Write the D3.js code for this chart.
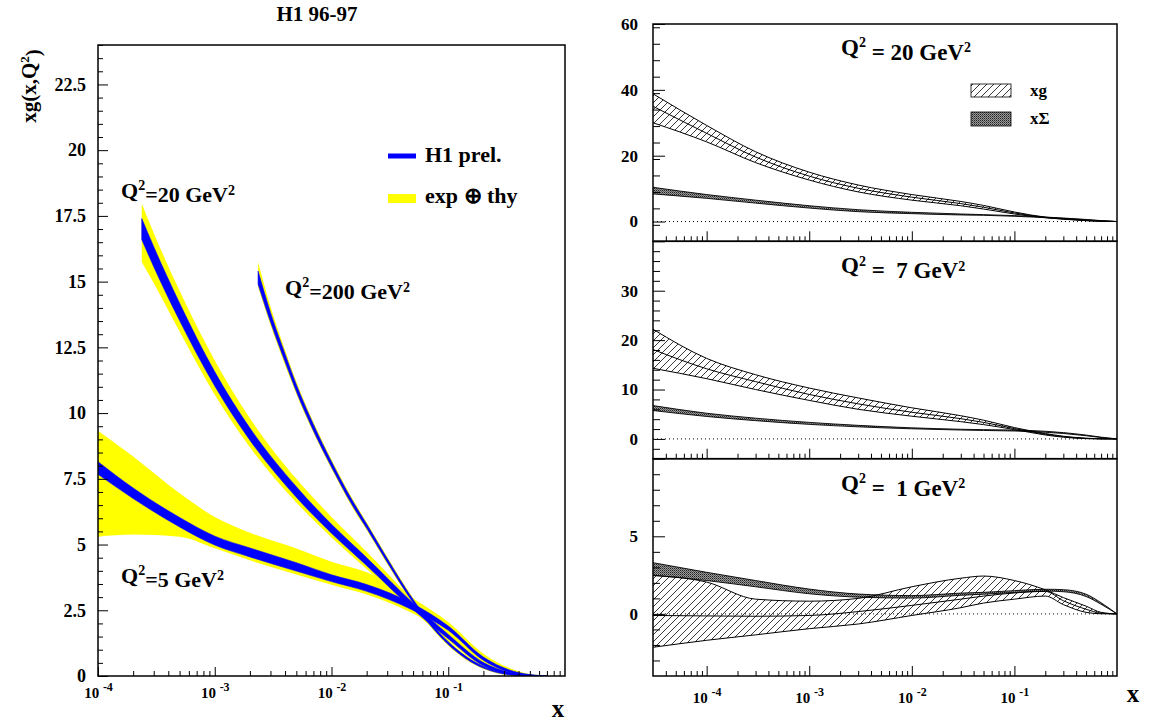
<!DOCTYPE html>
<html>
<head>
<meta charset="utf-8">
<script src="https://cdn.jsdelivr.net/npm/d3@7"></script>
<style>
body { margin: 0; background: #fff; }
svg { font-family: "Liberation Serif", "Times New Roman", serif; font-weight: bold; }
text { white-space: pre; }
</style>
</head>
<body>
<script>
// ---- left panel: xg at three Q2 values (H1 prel. band + exp (+) thy band)
var q5X       = [1e-4, 2e-4, 5e-4, 1e-3, 2e-3, 5e-3, 1e-2, 2e-2, 5e-2, 0.1, 0.2, 0.4, 0.7];
var q5BlueLo  = [7.67, 6.75, 5.67, 4.98, 4.53, 3.99, 3.59, 3.22, 2.50, 1.74, 0.60, 0.07, 0];
var q5BlueHi  = [8.15, 7.15, 6.03, 5.32, 4.87, 4.31, 3.85, 3.48, 2.74, 1.90, 0.72, 0.13, 0];
var q5YelLo   = [5.30, 5.38, 5.30, 4.86, 4.40, 3.86, 3.47, 3.10, 2.38, 1.62, 0.50, 0.03, 0];
var q5YelHi   = [9.33, 8.35, 6.95, 6.05, 5.45, 4.85, 4.35, 3.95, 2.95, 2.05, 0.85, 0.18, 0];

var q20X      = [2.37e-4, 3e-4, 5e-4, 1e-3, 2e-3, 5e-3, 1e-2, 2e-2, 5e-2, 0.1, 0.2, 0.4, 0.7];
var q20BlueLo = [16.6, 15.57, 13.52, 11.03, 8.97, 6.80, 5.43, 4.20, 2.53, 1.42, 0.39, 0.02, 0];
var q20BlueHi = [17.4, 16.33, 14.18, 11.57, 9.43, 7.20, 5.77, 4.50, 2.77, 1.58, 0.51, 0.08, 0];
var q20YelLo  = [15.75, 14.95, 13.10, 10.70, 8.70, 6.60, 5.27, 4.07, 2.45, 1.35, 0.35, 0.0, 0];
var q20YelHi  = [17.97, 16.85, 14.65, 12.0, 9.80, 7.50, 6.05, 4.73, 2.90, 1.68, 0.57, 0.10, 0];

var q200X      = [2.35e-3, 3e-3, 4e-3, 5e-3, 7e-3, 1e-2, 1.5e-2, 2e-2, 3e-2, 5e-2, 0.1, 0.2, 0.4, 0.7];
var q200BlueLo = [14.9, 13.47, 11.95, 10.82, 9.33, 7.95, 6.51, 5.62, 4.33, 2.79, 1.20, 0.30, 0.02, 0];
var q200BlueHi = [15.4, 13.83, 12.25, 11.08, 9.57, 8.15, 6.69, 5.78, 4.47, 2.91, 1.30, 0.36, 0.04, 0];
var q200YelLo  = [14.8, 13.35, 11.83, 10.72, 9.25, 7.87, 6.43, 5.55, 4.26, 2.73, 1.15, 0.27, 0.01, 0];
var q200YelHi  = [15.75, 14.05, 12.40, 11.20, 9.66, 8.23, 6.77, 5.85, 4.54, 2.97, 1.35, 0.39, 0.05, 0];

var leftYTicks = [0, 2.5, 5, 7.5, 10, 12.5, 15, 17.5, 20, 22.5];

// ---- right panels: xg and xSigma bands, shared x grid
var rX = [3e-5, 1e-4, 3e-4, 1e-3, 3e-3, 1e-2, 3e-2, 5e-2, 0.1, 0.2, 0.3, 0.5, 0.7, 1.0];

var q20gHi  = [38.8, 29.2, 21.2, 15.0, 11.1, 8.2, 6.1, 4.9, 2.9, 1.35, 0.85, 0.35, 0.1, 0];
var q20gMid = [35.0, 26.8, 19.6, 13.8, 10.1, 7.4, 5.45, 4.35, 2.6, 1.25, 0.78, 0.31, 0.09, 0];
var q20gLo  = [30.0, 24.2, 17.9, 12.6, 9.0, 6.5, 4.8, 3.8, 2.3, 1.15, 0.7, 0.27, 0.08, 0];
var q20sHi  = [10.4, 8.2, 6.5, 4.8, 3.6, 2.8, 2.3, 2.1, 1.8, 1.36, 1.07, 0.64, 0.28, 0];
var q20sMid = [9.45, 7.6, 6.05, 4.45, 3.3, 2.6, 2.15, 2.0, 1.7, 1.28, 1.0, 0.6, 0.25, 0];
var q20sLo  = [8.4, 7.05, 5.6, 4.1, 3.0, 2.4, 2.0, 1.9, 1.6, 1.2, 0.95, 0.55, 0.22, 0];

var q7gHi  = [22.2, 16.3, 13.0, 10.3, 8.3, 6.3, 4.7, 3.8, 2.3, 1.1, 0.55, 0.15, 0.03, 0];
var q7gMid = [18.1, 14.2, 11.6, 9.0, 7.1, 5.4, 4.1, 3.35, 2.1, 0.95, 0.45, 0.1, 0.02, 0];
var q7gLo  = [14.3, 12.2, 10.0, 7.8, 6.0, 4.6, 3.5, 2.9, 1.9, 0.8, 0.35, 0.06, 0.01, 0];
var q7sHi  = [6.75, 5.2, 4.2, 3.35, 2.75, 2.25, 1.96, 1.88, 1.8, 1.55, 1.28, 0.78, 0.36, 0];
var q7sMid = [6.25, 4.9, 3.95, 3.15, 2.6, 2.15, 1.88, 1.8, 1.7, 1.45, 1.2, 0.72, 0.32, 0];
var q7sLo  = [5.75, 4.55, 3.7, 2.95, 2.45, 2.05, 1.8, 1.72, 1.6, 1.35, 1.1, 0.65, 0.28, 0];

var q1gHi  = [2.47, 2.05, 0.95, 0.82, 1.0, 1.75, 2.3, 2.44, 2.15, 1.55, 1.05, 0.5, 0.1, 0];
var q1gMid = [-0.1, -0.13, -0.15, -0.1, 0.15, 0.55, 0.95, 1.15, 1.35, 1.45, 0.85, 0.3, 0.05, 0];
var q1gLo  = [-2.15, -1.7, -1.35, -0.95, -0.65, -0.1, 0.4, 0.7, 0.95, 1.15, 0.6, 0.1, 0.01, 0];
var q1sHi  = [3.3, 2.68, 2.15, 1.6, 1.28, 1.18, 1.34, 1.39, 1.5, 1.59, 1.56, 1.27, 0.72, 0];
var q1sMid = [2.9, 2.4, 1.95, 1.45, 1.18, 1.1, 1.27, 1.33, 1.44, 1.53, 1.5, 1.2, 0.67, 0];
var q1sLo  = [2.5, 2.15, 1.75, 1.3, 1.08, 1.02, 1.2, 1.27, 1.38, 1.47, 1.43, 1.12, 0.62, 0];

var decades = [1e-4, 1e-3, 1e-2, 1e-1];

var W = 1151, H = 723;

var svg = d3.select('body').append('svg')
    .attr('width', W)
    .attr('height', H);

var defs = svg.append('defs');

// hatch "////" for xg
var hatch = defs.append('pattern')
    .attr('id', 'hatch')
    .attr('patternUnits', 'userSpaceOnUse')
    .attr('width', 7)
    .attr('height', 7);
hatch.append('path')
    .attr('d', 'M0,7 L7,0 M-1,1 L1,-1 M6,8 L8,6')
    .attr('stroke', '#222')
    .attr('stroke-width', 0.9);

// dense dotted grey for xSigma
var dots = defs.append('pattern')
    .attr('id', 'dots')
    .attr('patternUnits', 'userSpaceOnUse')
    .attr('width', 2)
    .attr('height', 2);
dots.append('rect').attr('width', 2).attr('height', 2).attr('fill', '#9a9a9a');
dots.append('rect').attr('width', 1).attr('height', 1).attr('fill', '#222');
dots.append('rect').attr('x', 1).attr('y', 1).attr('width', 1).attr('height', 1).attr('fill', '#555');

var rows = function (xs, a, b) {
    return xs.map(function (x, i) { return { x: x, lo: a[i], hi: b[i] }; });
};

// text with superscripts: parts = [[text, isSup], ...]
var supText = function (sel, parts, supSize) {
    parts.forEach(function (p, i) {
        var prevSup = i > 0 && parts[i - 1][1];
        var t = sel.append('tspan').text(p[0]);
        if (p[1]) t.attr('dy', '-0.55em').style('font-size', supSize);
        else if (prevSup) t.attr('dy', '0.55em');
    });
    return sel;
};

// ================= LEFT PANEL =================
var L = { x0: 98, x1: 565, y0: 45, y1: 676 };
var xL = d3.scaleLog().domain([1e-4, 1]).range([L.x0, L.x1]);
var yL = d3.scaleLinear().domain([0, 24]).range([L.y1, L.y0]);

defs.append('clipPath').attr('id', 'clipL')
    .append('rect').attr('x', L.x0).attr('y', L.y0)
    .attr('width', L.x1 - L.x0).attr('height', L.y1 - L.y0);

var bandL = d3.area()
    .x(function (d) { return xL(d.x); })
    .y0(function (d) { return yL(d.lo); })
    .y1(function (d) { return yL(d.hi); })
    .curve(d3.curveMonotoneX);

var leftSets = [
    { x: q5X, blo: q5BlueLo, bhi: q5BlueHi, ylo: q5YelLo, yhi: q5YelHi },
    { x: q20X, blo: q20BlueLo, bhi: q20BlueHi, ylo: q20YelLo, yhi: q20YelHi },
    { x: q200X, blo: q200BlueLo, bhi: q200BlueHi, ylo: q200YelLo, yhi: q200YelHi }
];

var plotL = svg.append('g').attr('clip-path', 'url(#clipL)');

plotL.selectAll('path.yel')
    .data(leftSets)
    .enter()
    .append('path')
    .attr('class', 'yel')
    .attr('fill', '#ffff00')
    .attr('d', function (s) { return bandL(rows(s.x, s.ylo, s.yhi)); });

plotL.selectAll('path.blue')
    .data(leftSets)
    .enter()
    .append('path')
    .attr('class', 'blue')
    .attr('fill', '#0000ff')
    .attr('stroke', '#0000ff')
    .attr('stroke-width', 0.6)
    .attr('d', function (s) { return bandL(rows(s.x, s.blo, s.bhi)); });

// axes (ticks inside, ROOT style)
var yMinorL = d3.range(0, 24.01, 0.5).filter(function (v) { return leftYTicks.indexOf(v) < 0; });

svg.append('g')
    .attr('transform', 'translate(' + L.x0 + ',0)')
    .call(d3.axisLeft(yL).tickValues(yMinorL).tickSize(-5).tickFormat(''))
    .call(function (g) { g.select('.domain').remove(); });

var yAxisL = svg.append('g')
    .attr('transform', 'translate(' + L.x0 + ',0)')
    .call(d3.axisLeft(yL).tickValues(leftYTicks).tickSize(-10).tickPadding(12).tickFormat(function (v) { return String(v); }))
    .call(function (g) { g.select('.domain').remove(); })
    .attr('font-family', null)
    .attr('font-size', 18);

var xMinorL = [];
[-4, -3, -2, -1].forEach(function (e) {
    d3.range(2, 10).forEach(function (k) { xMinorL.push(k * Math.pow(10, e)); });
});

svg.append('g')
    .attr('transform', 'translate(0,' + L.y1 + ')')
    .call(d3.axisBottom(xL).tickValues(xMinorL).tickSize(-5).tickFormat(''))
    .call(function (g) { g.select('.domain').remove(); });

var xAxisL = svg.append('g')
    .attr('transform', 'translate(0,' + L.y1 + ')')
    .call(d3.axisBottom(xL).tickValues(decades).tickSize(-9).tickPadding(11))
    .call(function (g) { g.select('.domain').remove(); })
    .attr('font-family', null)
    .attr('font-size', 15);

svg.append('rect')
    .attr('x', L.x0).attr('y', L.y0)
    .attr('width', L.x1 - L.x0).attr('height', L.y1 - L.y0)
    .attr('fill', 'none')
    .attr('stroke', '#000')
    .attr('stroke-width', 1.5);

svg.append('text')
    .attr('x', 317).attr('y', 21)
    .attr('text-anchor', 'middle')
    .attr('font-size', 21)
    .text('H1 96-97');

svg.append('text')
    .attr('transform', 'translate(36,86) rotate(-90)')
    .attr('text-anchor', 'middle')
    .attr('font-size', 21)
    .call(supText, [['xg(x,Q', false], ['2', true], [')', false]], '13px');

svg.append('text')
    .attr('x', 558).attr('y', 717)
    .attr('text-anchor', 'middle')
    .attr('font-size', 25)
    .text('x');

// curve labels
svg.append('text').attr('x', 121).attr('y', 198).attr('font-size', 22)
    .call(supText, [['Q', false], ['2', true], ['=20 GeV', false], ['2', true]], '14px');
svg.append('text').attr('x', 285).attr('y', 295).attr('font-size', 22)
    .call(supText, [['Q', false], ['2', true], ['=200 GeV', false], ['2', true]], '14px');
svg.append('text').attr('x', 121).attr('y', 583).attr('font-size', 22)
    .call(supText, [['Q', false], ['2', true], ['=5 GeV', false], ['2', true]], '14px');

// legend
svg.append('rect').attr('x', 388).attr('y', 153.5).attr('width', 28).attr('height', 5).attr('fill', '#0000ff');
svg.append('text').attr('x', 425).attr('y', 162).attr('font-size', 22).text('H1 prel.');
svg.append('rect').attr('x', 388).attr('y', 194).attr('width', 28).attr('height', 9).attr('fill', '#ffff00');
svg.append('text').attr('x', 425).attr('y', 203).attr('font-size', 22).text('exp \u2295 thy');

// ================= RIGHT PANELS =================
var R = { x0: 653, x1: 1117 };
var xR = d3.scaleLog().domain([3e-5, 1]).range([R.x0, R.x1]);

var panels = [
    { label: '20', top: 24, bot: 241.3, dom: [-6, 60], major: [0, 20, 40, 60], lab: [0, 20, 40, 60], step: 5,
      gLo: q20gLo, gMid: q20gMid, gHi: q20gHi, sLo: q20sLo, sMid: q20sMid, sHi: q20sHi },
    { label: ' 7', top: 241.3, bot: 458.7, dom: [-4, 40], major: [0, 10, 20, 30, 40], lab: [0, 10, 20, 30], step: 2,
      gLo: q7gLo, gMid: q7gMid, gHi: q7gHi, sLo: q7sLo, sMid: q7sMid, sHi: q7sHi },
    { label: ' 1', top: 458.7, bot: 676, dom: [-4, 10], major: [0, 5, 10], lab: [0, 5], step: 1,
      gLo: q1gLo, gMid: q1gMid, gHi: q1gHi, sLo: q1sLo, sMid: q1sMid, sHi: q1sHi }
];

var xMinorR = [];
[-5, -4, -3, -2, -1].forEach(function (e) {
    d3.range(2, 10).forEach(function (k) {
        var v = k * Math.pow(10, e);
        if (v > 3.05e-5 && v < 1) xMinorR.push(v);
    });
});

var xAxisR = null;

panels.forEach(function (p, i) {
    var y = d3.scaleLinear().domain(p.dom).range([p.bot, p.top]);
    var clipId = 'clipR' + i;

    defs.append('clipPath').attr('id', clipId)
        .append('rect').attr('x', R.x0).attr('y', p.top)
        .attr('width', R.x1 - R.x0).attr('height', p.bot - p.top);

    var area = d3.area()
        .x(function (d) { return xR(d.x); })
        .y0(function (d) { return y(d.lo); })
        .y1(function (d) { return y(d.hi); })
        .curve(d3.curveMonotoneX);

    var line = d3.line()
        .x(function (d) { return xR(d[0]); })
        .y(function (d) { return y(d[1]); })
        .curve(d3.curveMonotoneX);

    var g = svg.append('g').attr('clip-path', 'url(#' + clipId + ')');

    // zero line
    g.append('line')
        .attr('x1', R.x0).attr('x2', R.x1)
        .attr('y1', y(0)).attr('y2', y(0))
        .attr('stroke', '#000')
        .attr('stroke-width', 1)
        .attr('stroke-dasharray', '1,3');

    g.append('path')
        .attr('fill', 'url(#hatch)')
        .attr('d', area(rows(rX, p.gLo, p.gHi)));

    g.append('path')
        .attr('fill', 'url(#dots)')
        .attr('d', area(rows(rX, p.sLo, p.sHi)));

    [p.gLo, p.gMid, p.gHi, p.sLo, p.sHi].forEach(function (arr, j) {
        g.append('path')
            .attr('fill', 'none')
            .attr('stroke', '#000')
            .attr('stroke-width', j < 3 ? 1 : 0.9)
            .attr('d', line(rX.map(function (x, k) { return [x, arr[k]]; })));
    });

    // y ticks
    var minor = d3.range(p.dom[0], p.dom[1] + 0.01, p.step)
        .filter(function (v) { return p.major.indexOf(v) < 0 && v > p.dom[0]; });
    svg.append('g')
        .attr('transform', 'translate(' + R.x0 + ',0)')
        .call(d3.axisLeft(y).tickValues(minor).tickSize(-7).tickFormat(''))
        .call(function (s) { s.select('.domain').remove(); });
    svg.append('g')
        .attr('transform', 'translate(' + R.x0 + ',0)')
        .call(d3.axisLeft(y).tickValues(p.major).tickSize(-12).tickPadding(15)
            .tickFormat(function (v) { return p.lab.indexOf(v) >= 0 ? String(v) : ''; }))
        .call(function (s) { s.select('.domain').remove(); })
        .attr('font-family', null)
        .attr('font-size', 17);

    // x ticks at panel bottom
    svg.append('g')
        .attr('transform', 'translate(0,' + p.bot + ')')
        .call(d3.axisBottom(xR).tickValues(xMinorR).tickSize(-5).tickFormat(''))
        .call(function (s) { s.select('.domain').remove(); });
    var xa = svg.append('g')
        .attr('transform', 'translate(0,' + p.bot + ')')
        .call(d3.axisBottom(xR).tickValues(decades).tickSize(-10).tickPadding(16))
        .call(function (s) { s.select('.domain').remove(); })
        .attr('font-family', null)
        .attr('font-size', 15);
    if (i !== 2) xa.selectAll('text').remove();
    else xAxisR = xa;

    svg.append('rect')
        .attr('x', R.x0).attr('y', p.top)
        .attr('width', R.x1 - R.x0).attr('height', p.bot - p.top)
        .attr('fill', 'none')
        .attr('stroke', '#000')
        .attr('stroke-width', 1.5);

    svg.append('text')
        .attr('x', 841).attr('y', p.top + (i === 0 ? 31 : 32))
        .attr('font-size', 23)
        .call(supText, [['Q', false], ['2', true], [' = ' + p.label + ' GeV', false], ['2', true]], '14px');
});

// decade labels as 10 with the exponent raised
[xAxisL, xAxisR].forEach(function (ax) {
    ax.selectAll('.tick text').each(function (d) {
        var t = d3.select(this);
        t.text(null);
        t.append('tspan').text('10 ');
        t.append('tspan').attr('dy', '-0.55em').attr('font-size', 12).text(String(Math.round(Math.log10(d))));
    });
});
svg.selectAll('.tick line').attr('stroke-width', 1);

svg.append('text')
    .attr('x', 1133).attr('y', 702)
    .attr('text-anchor', 'middle')
    .attr('font-size', 25)
    .text('x');

// right legend
svg.append('rect').attr('x', 971).attr('y', 84).attr('width', 40).attr('height', 13)
    .attr('fill', 'url(#hatch)').attr('stroke', '#000').attr('stroke-width', 0.8);
svg.append('text').attr('x', 1030).attr('y', 96).attr('font-size', 17).text('xg');
svg.append('rect').attr('x', 971).attr('y', 112).attr('width', 40).attr('height', 14)
    .attr('fill', 'url(#dots)').attr('stroke', '#000').attr('stroke-width', 0.8);
svg.append('text').attr('x', 1030).attr('y', 124).attr('font-size', 17).text('x\u03a3');
</script>
</body>
</html>
